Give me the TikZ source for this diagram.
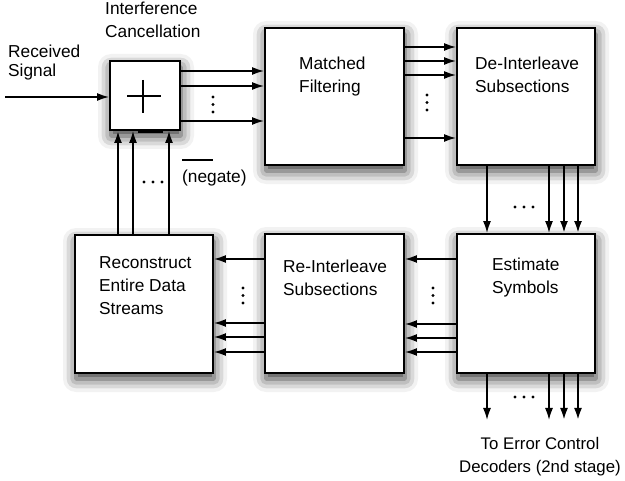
\documentclass[tikz,border=0pt]{standalone}
\usepackage{fontspec}
\setmainfont{Liberation Sans}
\usetikzlibrary{arrows.meta,shadows.blur}

\begin{document}
\begin{tikzpicture}[x=1pt, y=-1pt, >={Latex[length=12pt,width=8pt]},
    blk/.style={draw, line width=1.9pt, fill=white,
        blur shadow={shadow blur radius=13pt, shadow xshift=1pt, shadow yshift=-6pt, shadow opacity=80}},
    sig/.style={->, line width=1.5pt},
    bold/.style={->, line width=2.2pt},
    txt/.style={font=\fontsize{17.3}{23}\selectfont, align=left, inner sep=0pt, anchor=north west}]
    \useasboundingbox (0,0) rectangle (625,481);

    % blocks
    \node[blk, minimum width=70pt, minimum height=69pt] (sum) at (145,95.5) {};
    \node[blk, minimum width=139pt, minimum height=137pt] (mf) at (334.5,96.5) {};
    \node[blk, minimum width=138pt, minimum height=137pt] (di) at (526,96.5) {};
    \node[blk, minimum width=138pt, minimum height=139pt] (es) at (526,303.5) {};
    \node[blk, minimum width=139pt, minimum height=139pt] (ri) at (334.5,303.5) {};
    \node[blk, minimum width=138pt, minimum height=138pt] (rc) at (144,304) {};

    % texts
    \node[txt] (icl) at (105,1.6) {Interference\\Cancellation};
    \node[txt, font=\fontsize{17.3}{19.5}\selectfont] (rcv) at (8,44.6) {Received\\Signal};
    \node[txt] (mft) at (299,56.6) {Matched\\Filtering};
    \node[txt] (dit) at (475,56.6) {De-Interleave\\Subsections};
    \node[txt] (est) at (492,257.6) {Estimate\\Symbols};
    \node[txt] (rit) at (283,259.6) {Re-Interleave\\Subsections};
    \node[txt] (rct) at (99,256.6) {Reconstruct\\Entire Data\\Streams};
    \node[txt] (neg) at (182,169.6) {(negate)};
    \node[txt, anchor=north, align=center, font=\fontsize{16.8}{23}\selectfont] (dec) at (540,437.6)
        {To Error Control\\Decoders (2nd stage)};

    % adder
    \draw[line width=1.5pt] (127,96) -- (161,96) (143,80) -- (143,113);
    \draw[line width=2.3pt] (150,96) -- (161,96);
    \draw[line width=3.4pt] (sum.south -| 138,0) -- (sum.south -| 163,0);
    \draw[line width=1.5pt] (182,160) -- (213,160);

    % connectors
    \coordinate (in) at (5,97);
    \coordinate (out) at (0,420);
    \draw[sig] (in) -- (in -| sum.west);
    \foreach \y in {71,86,121}
        \draw[sig] (sum.east |- 0,\y) -- (mf.west |- 0,\y);
    \foreach \y in {47,61,75,138}
        \draw[sig] (mf.east |- 0,\y) -- (di.west |- 0,\y);
    \foreach \x/\s in {487/sig,549/sig,564/bold,578/bold}
        \draw[\s] (di.south -| \x,0) -- (es.north -| \x,0);
    \foreach \y in {259,324,338,352}
        \draw[sig] (es.west |- 0,\y) -- (ri.east |- 0,\y);
    \foreach \y in {259,323,337,352}
        \draw[sig] (ri.west |- 0,\y) -- (rc.east |- 0,\y);
    \foreach \x/\s in {118/bold,133/sig,169/sig}
        \draw[\s] (rc.north -| \x,0) -- (sum.south -| \x,0);
    \foreach \x/\s in {487/sig,549/sig,564/bold,578/bold}
        \draw[\s] (es.south -| \x,0) -- (out -| \x,0);

    % dots
    \foreach \x/\y in {213/97,427/95,433/288,243/288}
        \foreach \d in {0,7.5,15}
            \fill (\x,\y+\d) circle (1.7pt);
    \foreach \x/\y in {144/182,515/207,515/397}
        \foreach \d in {0,9,18}
            \fill (\x+\d,\y) circle (1.7pt);
\end{tikzpicture}
\end{document}
